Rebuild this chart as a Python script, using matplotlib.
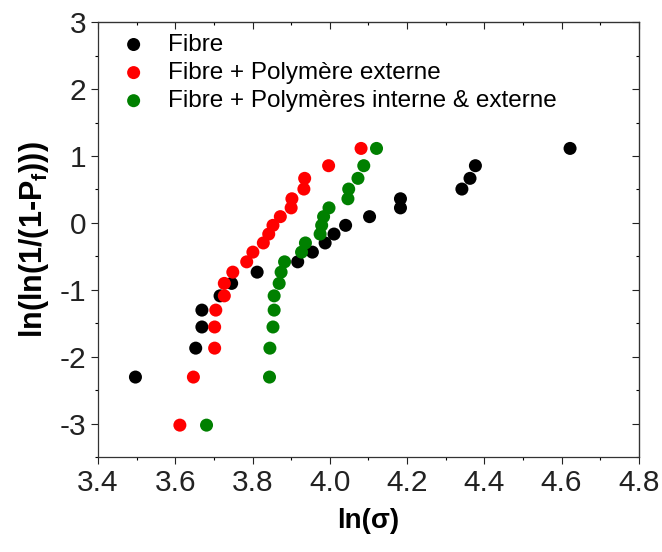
import matplotlib
matplotlib.use("Agg")
import matplotlib.pyplot as plt
from matplotlib.ticker import MultipleLocator

plt.rcParams['font.family'] = ['Liberation Sans', 'DejaVu Sans']
plt.rcParams['mathtext.fontset'] = 'custom'
plt.rcParams['mathtext.rm'] = 'Liberation Sans'
plt.rcParams['mathtext.bf'] = 'Liberation Sans:bold'
plt.rcParams['axes.unicode_minus'] = False

# Weibull plot data
fibre_x = [3.497, 3.653, 3.669, 3.669, 3.716, 3.746, 3.812, 3.917, 3.955, 3.988,
           4.011, 4.041, 4.103, 4.183, 4.183, 4.342, 4.363, 4.377, 4.622]
fibre_y = [-2.302, -1.870, -1.554, -1.302, -1.089, -0.903, -0.735, -0.581, -0.436, -0.299,
           -0.166, -0.036, 0.094, 0.225, 0.361, 0.506, 0.666, 0.855, 1.113]

ext_x = [3.612, 3.647, 3.702, 3.702, 3.705, 3.727, 3.727, 3.749, 3.785, 3.801,
         3.828, 3.842, 3.853, 3.872, 3.900, 3.902, 3.933, 3.935, 3.997, 4.081]
ext_y = [-3.020, -2.302, -1.870, -1.554, -1.302, -1.089, -0.903, -0.735, -0.581, -0.436,
         -0.299, -0.166, -0.036, 0.094, 0.225, 0.361, 0.506, 0.666, 0.855, 1.113]

int_ext_x = [3.681, 3.844, 3.845, 3.853, 3.856, 3.856, 3.869, 3.874, 3.883, 3.927,
             3.937, 3.975, 3.979, 3.984, 3.998, 4.047, 4.049, 4.073, 4.088, 4.121]
int_ext_y = [-3.020, -2.302, -1.870, -1.554, -1.302, -1.089, -0.903, -0.735, -0.581, -0.436,
             -0.299, -0.166, -0.036, 0.094, 0.225, 0.361, 0.506, 0.666, 0.855, 1.113]

labels = ['Fibre', 'Fibre + Polymère externe', 'Fibre + Polymères interne & externe']
colors = ['#000000', '#ff0000', '#008000']
xtick_vals = [3.4, 3.6, 3.8, 4.0, 4.2, 4.4, 4.6, 4.8]
xtick_labels = ['3.4', '3.6', '3.8', '4.0', '4.2', '4.4', '4.6', '4.8']

fig = plt.figure(figsize=(6.62, 5.52), dpi=100)
ax = fig.add_axes([0.148, 0.1716, 0.817, 0.7884])

series = [(fibre_x, fibre_y), (ext_x, ext_y), (int_ext_x, int_ext_y)]
for (xs, ys), lab, c in zip(series, labels, colors):
    ax.scatter(xs, ys, s=88, color=c, label=lab, edgecolors='none', zorder=3)

ax.set_xlim(3.4, 4.8)
ax.set_ylim(-3.5, 3)
ax.set_xticks(xtick_vals)
ax.set_xticklabels(xtick_labels)
ax.xaxis.set_minor_locator(MultipleLocator(0.1))
ax.yaxis.set_major_locator(MultipleLocator(1))
ax.yaxis.set_minor_locator(MultipleLocator(0.5))
ax.tick_params(which='major', direction='out', length=5, width=0.8, labelsize=21.5, colors='#222222')
ax.tick_params(which='minor', direction='out', length=2.5, width=0.8)
for sp in ax.spines.values():
    sp.set_linewidth(0.9)
    sp.set_color('#333333')

# mirrored ticks pointing inward on top / right
top = ax.secondary_xaxis('top')
top.xaxis.set_major_locator(MultipleLocator(0.2))
top.xaxis.set_minor_locator(MultipleLocator(0.1))
top.tick_params(which='major', direction='in', length=5, width=0.8, labeltop=False, colors='#222222')
top.tick_params(which='minor', direction='in', length=2.5, width=0.8)
right = ax.secondary_yaxis('right')
right.yaxis.set_major_locator(MultipleLocator(1))
right.yaxis.set_minor_locator(MultipleLocator(0.5))
right.tick_params(which='major', direction='in', length=5, width=0.8, labelright=False, colors='#222222')
right.tick_params(which='minor', direction='in', length=2.5, width=0.8)

ax.set_xlabel('ln(σ)', fontsize=20, fontweight='bold', labelpad=8)
ax.set_ylabel(r'ln(ln(1/(1-P$_{\mathbf{f}}$)))', fontsize=22, fontweight='bold', labelpad=6)

leg = ax.legend(loc='upper left', frameon=False, fontsize=17.5, markerscale=1.0,
                handletextpad=0.9, labelspacing=0.25, borderaxespad=0.3,
                handlelength=1.0, bbox_to_anchor=(0.012, 1.012))

fig.savefig('out.png', dpi=100)
